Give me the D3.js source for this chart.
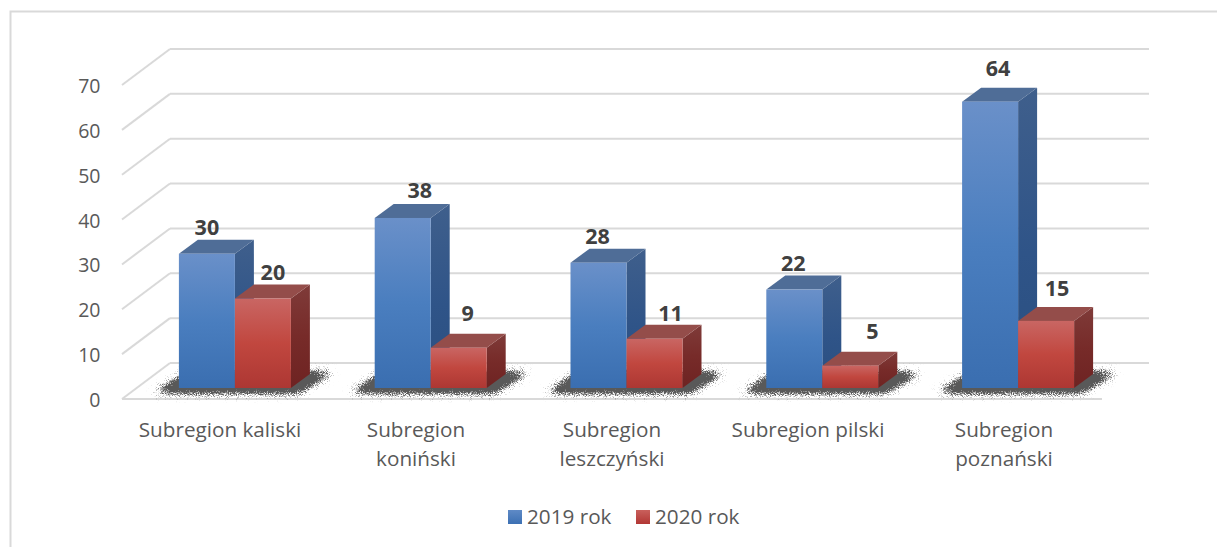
<!DOCTYPE html>
<html><head><meta charset="utf-8">
<script src="https://cdn.jsdelivr.net/npm/d3@7"></script>
<style>html,body{margin:0;padding:0;background:#fff;overflow:hidden}svg{display:block}text{font-family:"Open Sans",Lato,sans-serif}</style>
</head><body><svg id="c" width="1217" height="547"></svg>
<script>
const categories = [["Subregion kaliski"],["Subregion","koniński"],["Subregion","leszczyński"],["Subregion pilski"],["Subregion","poznański"]];
const seriesNames = ["2019 rok","2020 rok"];
const values2019 = [30,38,28,22,64];
const values2020 = [20,9,11,5,15];
const ticks = [0,10,20,30,40,50,60,70];
// data-label placement offsets, per series (x from bar centre, lift above bar back edge)
const labelDx = [[0,17,-1,-1,8],[10,9,16,22,11]];
const labelLift = [[13,14,13,13,20],[13,21,12,21,19]];

const W=1217,H=547;
const depthX=48,depthY=36;
const barDX=19,barDY=14;
const svg=d3.select("#c");
const defs=svg.append("defs");
function grad(id,stops){
  const g=defs.append("linearGradient").attr("id",id).attr("x1",0).attr("y1",0).attr("x2",0).attr("y2",1);
  stops.forEach(s=>g.append("stop").attr("offset",s[0]).attr("stop-color",s[1]));
}
grad("blueF",[[0,"#6a90c9"],[.5,"#4a7ebf"],[1,"#3a6eb0"]]);
grad("blueS",[[0,"#3f5f8c"],[.55,"#2f5488"],[1,"#2a4f80"]]);
grad("redF",[[0,"#c96663"],[.5,"#c1473f"],[1,"#ad3733"]]);
grad("redS",[[0,"#7f3b39"],[.5,"#772b29"],[1,"#6e2322"]]);
grad("blueL",[[0,"#5f8ac6"],[1,"#3c70b3"]]);
grad("redL",[[0,"#c9605c"],[1,"#b23734"]]);
const f=defs.append("filter").attr("id","shadow").attr("color-interpolation-filters","sRGB")
  .attr("filterUnits","userSpaceOnUse").attr("x",-200).attr("y",340).attr("width",500).attr("height",80);
f.append("feGaussianBlur").attr("in","SourceAlpha").attr("stdDeviation","5").attr("result","b");
f.append("feTurbulence").attr("type","fractalNoise").attr("baseFrequency","1.1").attr("numOctaves",1).attr("seed",4).attr("result","n");
f.append("feColorMatrix").attr("in","n").attr("type","matrix").attr("values","0 0 0 0 0 0 0 0 0 0 0 0 0 0 0 2.6 0 0 0 -0.8").attr("result","na");
f.append("feComposite").attr("in","b").attr("in2","na").attr("operator","arithmetic").attr("k1",0).attr("k2",3.0).attr("k3",1.4).attr("k4",-1.4).attr("result","m");
f.append("feFlood").attr("flood-color","#3c3c3c").attr("flood-opacity",0.85).attr("result","col");
f.append("feComposite").attr("in","col").attr("in2","m").attr("operator","in");

const frame="#d9d9d9";
svg.append("path").attr("d",`M${W},11.5H10.5V${H}`).attr("fill","none").attr("stroke",frame).attr("stroke-width",2);

const y=d3.scaleLinear().domain([0,70]).range([399,85]);
const x0=d3.scaleBand().domain(d3.range(categories.length)).range([122,1102]);
const wall=svg.append("g").attr("fill","none").attr("stroke","#d9d9d9").attr("stroke-width",2);
ticks.forEach(t=>{
  const yf=y(t);
  wall.append("path").attr("d",`M170,${yf-depthY}H1149`);
  wall.append("path").attr("d",`M122,${yf}L170,${yf-depthY}`);
});
wall.append("path").attr("d",`M122,${y(0)}H1102`);

svg.append("g").selectAll("text").data(ticks).join("text")
  .attr("x",100.5).attr("y",t=>y(t)+8).attr("text-anchor","end").attr("font-size",19.5).attr("fill","#595959").text(t=>t);

const barY=d3.scaleLinear().domain([0,70]).range([388,74.8]);
const barX=d3.scaleBand().domain(d3.range(categories.length)).range([146,1125]);
const inner=d3.scaleBand().domain([0,1]).range([-65,47]);
const barW=inner.bandwidth();
const data=categories.map((c,i)=>({i,c,v:[values2019[i],values2020[i]]}));

const groups=svg.append("g").selectAll("g").data(data).join("g")
  .attr("transform",d=>`translate(${barX(d.i)+barX.bandwidth()/2},0)`);

groups.append("path").attr("filter","url(#shadow)").attr("fill","#000")
  .attr("d",()=>{const l=inner(0),r=inner(1)+barW;const b=barY(0);
    return `M${l-26},${b+5}L${r+8},${b+5}L${r+barDX+24},${b-16}L${l+barDX-10},${b-16}Z`;});

const cols=[["blueF","blueS","#4f6d97"],["redF","redS","#944d4a"]];
[0,1].forEach(s=>{
  const g=groups.append("g");
  g.append("path").attr("fill",`url(#${cols[s][1]})`).attr("d",d=>{
    const r=inner(s)+barW,t=barY(d.v[s]),b=barY(0);
    return `M${r},${t}L${r+barDX},${t-barDY}V${b-barDY}L${r},${b}Z`;});
  g.append("path").attr("fill",cols[s][2]).attr("d",d=>{
    const l=inner(s),r=l+barW,t=barY(d.v[s]);
    return `M${l},${t}L${l+barDX},${t-barDY}H${r+barDX}L${r},${t}Z`;});
  g.append("rect").attr("fill",`url(#${cols[s][0]})`)
    .attr("x",inner(s)).attr("width",barW)
    .attr("y",d=>barY(d.v[s])).attr("height",d=>barY(0)-barY(d.v[s]));
});
[0,1].forEach(s=>{
  groups.append("text").attr("text-anchor","middle").attr("font-size",21.5).attr("font-weight",700).attr("fill","#404040")
    .attr("x",d=>inner(s)+barW/2+labelDx[s][d.i])
    .attr("y",d=>barY(d.v[s])-barDY-labelLift[s][d.i]+8).text(d=>d.v[s]);
});

const labels=svg.append("g").selectAll("text").data(data).join("text")
  .attr("text-anchor","middle").attr("font-size",20.7).attr("fill","#595959");
labels.each(function(d){
  d3.select(this).selectAll("tspan").data(d.c).join("tspan")
    .attr("x",x0(d.i)+x0.bandwidth()/2).attr("y",(l,j)=>436.5+j*29).text(l=>l);
});

const lx=[508,636],lf=["blueL","redL"];
const leg=svg.append("g").selectAll("g").data(seriesNames).join("g");
leg.append("rect").attr("x",(d,i)=>lx[i]).attr("y",510).attr("width",14).attr("height",14).attr("fill",(d,i)=>`url(#${lf[i]})`);
leg.append("text").attr("x",(d,i)=>lx[i]+19).attr("y",523.5).attr("font-size",20.7).attr("fill","#595959").text(d=>d);
</script></body></html>
